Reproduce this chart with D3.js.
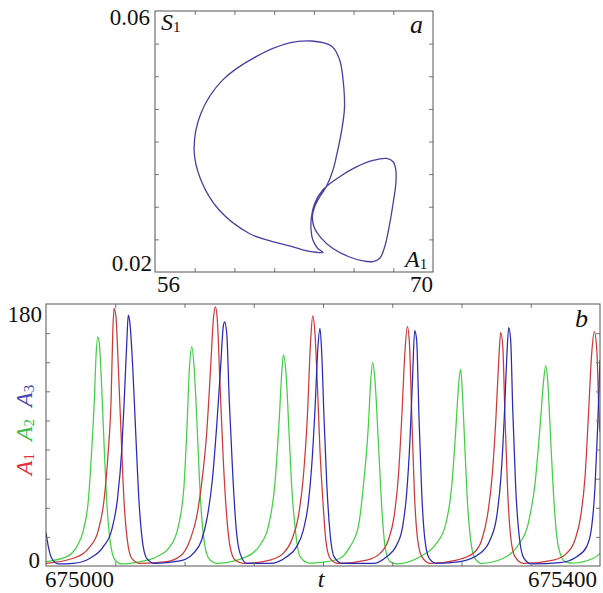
<!DOCTYPE html>
<html>
<head>
    <meta charset="UTF-8">
    <title>Phase portrait and time series</title>
    <script src="https://cdnjs.cloudflare.com/ajax/libs/d3/7.8.5/d3.min.js"></script>
    <style>
        body {
            margin: 0;
            background: #fff;
        }

        svg text {
            font-family: "Liberation Serif", "Times New Roman", serif;
            fill: #111;
        }

        .frame {
            fill: none;
            stroke: #555;
            stroke-width: 1;
        }

        .tick line {
            stroke: #777;
        }
    </style>
</head>
<body>
    <svg id="chart" width="603" height="593"></svg>

    <script>
        // panel a: orbit in the (A1, S1) plane
        const orbit = [
            [63.87, 0.0554], [64.90, 0.0546], [65.30, 0.0525], [65.48, 0.0492],
            [65.54, 0.0450], [65.36, 0.0410], [65.148, 0.0379], [64.96, 0.0356],
            [64.63, 0.0331], [64.29, 0.0315], [64.04, 0.0300], [63.93, 0.0286],
            [64.01, 0.0269], [64.37, 0.0252], [64.96, 0.0236], [65.80, 0.0223],
            [66.48, 0.0217], [66.98, 0.0216], [67.32, 0.0221], [67.57, 0.0239],
            [67.79, 0.0269], [67.99, 0.0305], [68.13, 0.0336], [68.13, 0.0356],
            [67.99, 0.0369], [67.66, 0.0374], [66.98, 0.0371], [66.14, 0.0361],
            [65.30, 0.0346], [64.46, 0.0326], [64.04, 0.0305], [63.88, 0.0285],
            [63.86, 0.0264], [63.95, 0.0249], [64.20, 0.0236], [64.46, 0.0230],
            [63.95, 0.0231], [63.44, 0.0234], [62.77, 0.0240], [61.76, 0.0248],
            [60.75, 0.0259], [59.23, 0.0295], [58.31, 0.0341], [57.97, 0.0387],
            [58.31, 0.0443], [59.40, 0.0494], [61.09, 0.0530], [62.77, 0.0551]
        ];

        // panel b: time series [t, value]
        const seriesA1 = [
            [675000, 1.8], [675019.7, 5.3], [675031.8, 13.3], [675037.8, 24.7], [675041.9, 45.3],
            [675045, 79.7], [675047, 114], [675048.2, 159.9], [675049.1, 177], [675050.5, 171.3],
            [675052.2, 137], [675054.2, 91], [675056.3, 45.3], [675058.7, 17.9], [675061.9, 5.3],
            [675067.9, 1.8], [675087.1, 3], [675097, 6.8], [675104, 17.9], [675108.8, 33.9],
            [675112.4, 56.8], [675116, 91], [675118.9, 137], [675120.8, 169], [675122.3, 178],
            [675123.7, 169], [675125.6, 125.5], [675128, 72.8], [675130.5, 33.9], [675132.9, 13.3],
            [675136.5, 4.1], [675142.5, 1.8], [675161.7, 4.1], [675171.3, 8.7], [675177.4, 17.9],
            [675182.2, 33.9], [675185.8, 61.3], [675188.7, 102.6], [675191.1, 155.3], [675192.6, 171.8],
            [675194.2, 159.9], [675195.9, 125.5], [675197.8, 79.7], [675200.2, 40.7], [675202, 17.9],
            [675205.1, 5.3], [675211.1, 1.8], [675231.6, 4.1], [675241.2, 8.7], [675247.2, 17.9],
            [675251.3, 33.9], [675254.4, 61.3], [675256.9, 102.6], [675259.1, 146], [675260.9, 164.4],
            [675262.4, 153], [675264.1, 102.6], [675266, 49.9], [675268.1, 20.1], [675271.3, 6.4],
            [675277.3, 1.8], [675296.5, 4.1], [675308.5, 8.7], [675314.6, 17.9], [675318.6, 33.9],
            [675322.3, 63.7], [675324.9, 102.6], [675326.9, 141.5], [675328.3, 160.5], [675329.8, 150.7],
            [675331.4, 102.6], [675333.4, 49.9], [675335.5, 20.1], [675338.6, 6.4], [675344.6, 1.8],
            [675366.3, 4.1], [675375.9, 8.7], [675381.9, 17.9], [675386, 33.9], [675389.2, 61.3],
            [675391.6, 102.6], [675394, 146], [675395.9, 161], [675397.7, 148], [675399.6, 97],
            [675400, 92]
        ];

        const seriesA2 = [
            [675000, 3.0], [675015, 6.4], [675022.2, 13.3], [675027, 24.7], [675030.6, 45.3],
            [675033, 79.7], [675034.9, 114], [675036.1, 143.8], [675037.3, 157.5], [675038.5, 153],
            [675040.2, 123], [675042.1, 79.7], [675043.8, 45.3], [675046.2, 17.9], [675049.8, 4.1],
            [675054.7, 1.4], [675067.9, 3], [675079.9, 6.4], [675089.5, 13.3], [675095.5, 27],
            [675099.6, 54.5], [675101.6, 91], [675103.5, 135], [675105.2, 150.7], [675106.9, 137],
            [675108.8, 102.6], [675110.7, 61.3], [675112.4, 33.9], [675114.8, 13.3], [675118.4, 4.1],
            [675123.2, 1.8], [675144.9, 6.4], [675154.5, 14.4], [675160.5, 27], [675165.3, 56.8],
            [675168.5, 102.6], [675170.2, 132.4], [675171.4, 145], [675173.3, 132.4], [675175.5, 91],
            [675177.4, 54.5], [675179.8, 27], [675183.4, 6.4], [675190, 2.0], [675200, 2.6],
            [675212.3, 5.3], [675219.5, 13.3], [675225.5, 27], [675229.1, 54.5], [675232.7, 95.6],
            [675234.5, 127.8], [675235.9, 139.7], [675237.5, 127.8], [675239.9, 86.6], [675242.4, 40.7],
            [675244.8, 13.3], [675248.4, 3], [675253, 1.5], [675270, 6.4], [675280.9, 14.4],
            [675288.1, 27], [675292.9, 54.5], [675296, 95.6], [675298, 125.5], [675299.4, 135.3],
            [675300.9, 114], [675302.5, 79.7], [675304.2, 45.3], [675306.6, 17.9], [675309.7, 5.3],
            [675314.6, 1.8], [675330.2, 5.3], [675341, 14.4], [675348.2, 29.3], [675353.1, 56.8],
            [675356.7, 95.6], [675359.1, 125.5], [675360.8, 137.6], [675362.2, 127.8], [675364.4, 86.6],
            [675367, 40.7], [675369.9, 13.3], [675374.7, 3], [675380, 2], [675395.2, 5.3],
            [675400, 8.7]
        ];

        const seriesA3 = [
            [675000, 23], [675001.7, 13.3], [675004.1, 5.3], [675008.9, 1.4], [675019.7, 1.8],
            [675031.8, 5.3], [675041.4, 13.3], [675047.4, 24.7], [675051.5, 45.3], [675054.7, 79.7],
            [675056.5, 114], [675058.3, 153], [675059.4, 172.4], [675060.6, 166.7], [675062.6, 137],
            [675064.8, 91], [675067.1, 45.3], [675069.5, 17.9], [675072.7, 5.3], [675078.7, 1.8],
            [675096.8, 3.5], [675106.4, 8.7], [675112.4, 17.9], [675116.5, 33.9], [675120.1, 59.1],
            [675123.2, 95.6], [675126.1, 137], [675128, 164.4], [675129, 167.8], [675130.5, 159.9],
            [675132.3, 114], [675134.8, 63.7], [675137.2, 27], [675140.1, 8.7], [675144.9, 1.8],
            [675161.7, 1.8], [675173.8, 6.4], [675181, 13.3], [675185.8, 24.7], [675189.4, 43.1],
            [675191.8, 68.2], [675194.2, 107.2], [675196.2, 148.4], [675197.8, 163.3], [675199, 148],
            [675200.7, 102.6], [675202.7, 56.8], [675205.1, 22.5], [675208, 6.4], [675213.5, 1.8],
            [675236.3, 1.8], [675245.9, 6.4], [675253.2, 14.4], [675257.5, 27], [675260.4, 49.9],
            [675262.8, 86.6], [675264.7, 130], [675266.2, 161.7], [675267.6, 155.3], [675269.3, 102.6],
            [675271.3, 49.9], [675273.6, 17.9], [675276.7, 5.3], [675282.1, 1.8], [675298.9, 3],
            [675313.4, 8.7], [675320.6, 17.9], [675325.4, 33.9], [675328.5, 61.3], [675330.9, 102.6],
            [675332.6, 141.5], [675334.1, 163.7], [675335.5, 155.3], [675337, 107.2], [675339.1, 54.5],
            [675341.7, 20.1], [675345.1, 5.3], [675350.7, 1.4], [675371.1, 2.3], [675383.2, 6.4],
            [675390.4, 13.3], [675394, 27], [675396.4, 54.5], [675398.3, 95.6], [675400, 141.5]
        ];

        const ticksA1 = [58, 60, 62, 64, 66, 68];
        const ticksS1 = [0.025, 0.03, 0.035, 0.04, 0.045, 0.05, 0.055];
        const ticksT = [675050, 675100, 675150, 675200, 675250, 675300, 675350];
        const ticksA = [20, 40, 60, 80, 100, 120, 140, 160];

        const svg = d3.select("#chart");

        // ---- panel a ----
        const pa = { left: 155, right: 433, top: 11, bottom: 272 };
        const xa = d3.scaleLinear().domain([56, 70]).range([pa.left, pa.right]);
        const ya = d3.scaleLinear().domain([0.02, 0.06]).range([pa.bottom, pa.top]);

        function innerTicks(xs, ys, box, xt, yt) {
            const len = -4;
            svg.append("g").attr("transform", `translate(0,${box.bottom})`)
                .call(d3.axisBottom(xs).tickValues(xt).tickSize(len).tickFormat(""));
            svg.append("g").attr("transform", `translate(0,${box.top})`)
                .call(d3.axisTop(xs).tickValues(xt).tickSize(len).tickFormat(""));
            svg.append("g").attr("transform", `translate(${box.left},0)`)
                .call(d3.axisLeft(ys).tickValues(yt).tickSize(len).tickFormat(""));
            svg.append("g").attr("transform", `translate(${box.right},0)`)
                .call(d3.axisRight(ys).tickValues(yt).tickSize(len).tickFormat(""));
            svg.selectAll(".domain").remove();
            svg.append("rect").attr("class", "frame")
                .attr("x", box.left).attr("y", box.top)
                .attr("width", box.right - box.left).attr("height", box.bottom - box.top);
        }

        svg.append("path")
            .datum(orbit)
            .attr("fill", "none")
            .attr("stroke", "#4a3f9e")
            .attr("stroke-width", 1.3)
            .attr("d", d3.line()
                .x(d => xa(d[0]))
                .y(d => ya(d[1]))
                .curve(d3.curveCatmullRomClosed.alpha(0.5)));

        innerTicks(xa, ya, pa, ticksA1, ticksS1);

        const fs = 23;
        function label(x, y, txt, anchor, opts = {}) {
            const t = svg.append("text")
                .attr("x", x).attr("y", y)
                .attr("text-anchor", anchor || "start")
                .style("font-size", (opts.size || fs) + "px");
            if (opts.italic) t.style("font-style", "italic");
            if (opts.color) t.style("fill", opts.color);
            t.text(txt);
            if (opts.sub) {
                t.append("tspan").attr("dy", 2).style("font-size", "15px").style("font-style", "normal").text(opts.sub);
            }
            return t;
        }

        label(xa(56) - 5, ya(0.06) + 14, "0.06", "end");
        label(xa(56) - 3, ya(0.02) - 1, "0.02", "end");
        label(xa(56) + 2, pa.bottom + 20, "56", "start");
        label(xa(70), pa.bottom + 20, "70", "end");
        label(pa.left + 6, pa.top + 19, "S", "start", { italic: true, size: 24, sub: "1" });
        label(pa.right - 23, pa.top + 22, "a", "start", { italic: true, size: 26 });
        label(pa.right - 28, pa.bottom - 5, "A", "start", { italic: true, size: 24, sub: "1" });

        // ---- panel b ----
        const pb = { left: 46, right: 600, top: 304, bottom: 566 };
        const xb = d3.scaleLinear().domain([675000, 675400]).range([pb.left, pb.right]);
        const yb = d3.scaleLinear().domain([0, 180]).range([pb.bottom, pb.top]);

        svg.append("clipPath").attr("id", "clipb")
            .append("rect")
            .attr("x", pb.left).attr("y", pb.top)
            .attr("width", pb.right - pb.left).attr("height", pb.bottom - pb.top);

        const lineB = d3.line()
            .x(d => xb(d[0]))
            .y(d => yb(d[1]))
            .curve(d3.curveMonotoneX);

        const series = [
            { data: seriesA2, color: "#44d044" },
            { data: seriesA1, color: "#cc3a3a" },
            { data: seriesA3, color: "#2a2ab4" }
        ];

        svg.append("g").attr("clip-path", "url(#clipb)")
            .selectAll("path")
            .data(series)
            .join("path")
            .attr("fill", "none")
            .attr("stroke", d => d.color)
            .attr("stroke-width", 1.25)
            .attr("d", d => lineB(d.data));

        innerTicks(xb, yb, pb, ticksT, ticksA);

        label(pb.left - 4, yb(180) + 18, "180", "end");
        label(pb.left - 6, yb(0) + 2, "0", "end");
        label(pb.left - 1, pb.bottom + 21, "675000", "start");
        label(pb.right - 3, pb.bottom + 21, "675400", "end");
        label(321, pb.bottom + 21, "t", "middle", { italic: true, size: 24 });
        label(pb.right - 25, pb.top + 23, "b", "start", { italic: true, size: 26 });

        // rotated y label, coloured per series
        const yl = svg.append("text")
            .attr("transform", "translate(32,430) rotate(-90)")
            .attr("text-anchor", "middle")
            .style("font-size", "24px")
            .style("font-style", "italic");
        [["A", "1", "#e0303a"], ["A", "2", "#3cbc46"], ["A", "3", "#4a4ab8"]].forEach((p, i) => {
            yl.append("tspan").attr("dy", i === 0 ? 0 : -2).style("fill", p[2]).text((i ? "\u2002" : "") + p[0]);
            yl.append("tspan").attr("dy", 2).style("fill", p[2]).style("font-size", "15px").style("font-style", "normal").text(p[1]);
        });
    </script>
</body>
</html>
